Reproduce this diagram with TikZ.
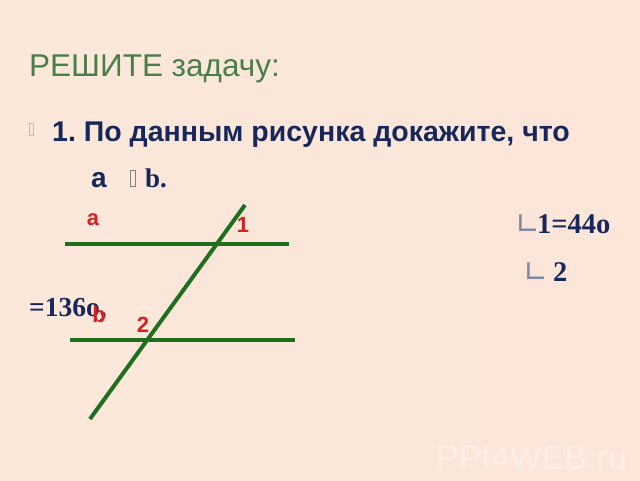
\documentclass[tikz,border=0pt]{standalone}
\usepackage{fontspec}
\setmainfont{Liberation Serif}
\setsansfont{Liberation Sans}
\newfontfamily\djv{DejaVu Sans}
\definecolor{ttlgreen}{HTML}{4A7D4A}
\definecolor{navy}{HTML}{17275A}
\definecolor{lnred}{HTML}{D42222}
\definecolor{lngreen}{HTML}{1F6F1F}
\definecolor{bgA}{HTML}{FBE8DA}
\definecolor{bgB}{HTML}{F8D8BE}
\definecolor{bgC}{HTML}{FBE6D9}
\definecolor{wmark}{HTML}{FDEFE5}
\definecolor{bultan}{HTML}{D2B98A}
\frenchspacing
\begin{document}
\begin{tikzpicture}[x=1pt,y=-1pt,
  txt/.style={inner sep=0pt,anchor=base west},
  gline/.style={draw=lngreen,line width=4pt},
  redlbl/.style={inner sep=0pt,text=lnred,font=\sffamily\bfseries\fontsize{22}{22}\selectfont},
  navytxt/.style={txt,text=navy},
  anglesym/.style={txt,text=navy!55,font=\djv\fontsize{30}{30}\selectfont},
  serifbig/.style={navytxt,font=\rmfamily\bfseries\fontsize{28.5}{28}\selectfont}]
\shade[left color=bgA,middle color=bgB,right color=bgC,shading angle=90] (0,0) rectangle (640,480);
\useasboundingbox (0,0) rectangle (640,480);
\node[txt,text=wmark,font=\sffamily\fontsize{34}{34}\selectfont] (wm) at (436,469) {PPt4WEB.ru};
\node[txt,text=ttlgreen,font=\sffamily\fontsize{31.5}{32}\selectfont] (title) at (29,76) {РЕШИТЕ задачу:};
\node[draw=bultan,line width=0.6pt,minimum width=4pt,minimum height=12pt,inner sep=0pt] (bul) at (31,129) {};
\node[navytxt,font=\sffamily\bfseries\fontsize{28.5}{28}\selectfont] (l1) at (52,141) {1. По данным рисунка докажите, что};
\node[navytxt,font=\sffamily\bfseries\fontsize{28}{28}\selectfont] (la) at (91,187) {а};
\node[draw=gray,line width=0.5pt,minimum width=5pt,minimum height=16pt,inner sep=0pt] (box) at (132.5,178) {};
\node[navytxt,font=\rmfamily\bfseries\fontsize{27}{27}\selectfont] (lb) at (145,187) {b.};
\coordinate (a1) at (65,244); \coordinate (a2) at (289,244);
\coordinate (b1) at (70,340); \coordinate (b2) at (295,340);
\coordinate (t1) at (245,205); \coordinate (t2) at (90,419);
\draw[gline] (a1) -- (a2);
\draw[gline] (b1) -- (b2);
\draw[gline] (t1) -- (t2);
\node[navytxt,font=\rmfamily\bfseries\fontsize{27.5}{27}\selectfont] (v136) at (29,316) {=136o,};
\node[redlbl] (na) at (93,220) {a};
\node[redlbl] (n1) at (243,225) {1};
\node[redlbl] (nb) at (99,315) {b};
\node[redlbl] (n2) at (143,324.5) {2};
\node[anglesym] (s1) at (515,234) {∟};
\node[serifbig] (ang1) at (537,233) {1=44o};
\node[anglesym] (s2) at (523,282) {∟};
\node[serifbig] (ang2) at (553,281) {2};
\end{tikzpicture}
\end{document}
